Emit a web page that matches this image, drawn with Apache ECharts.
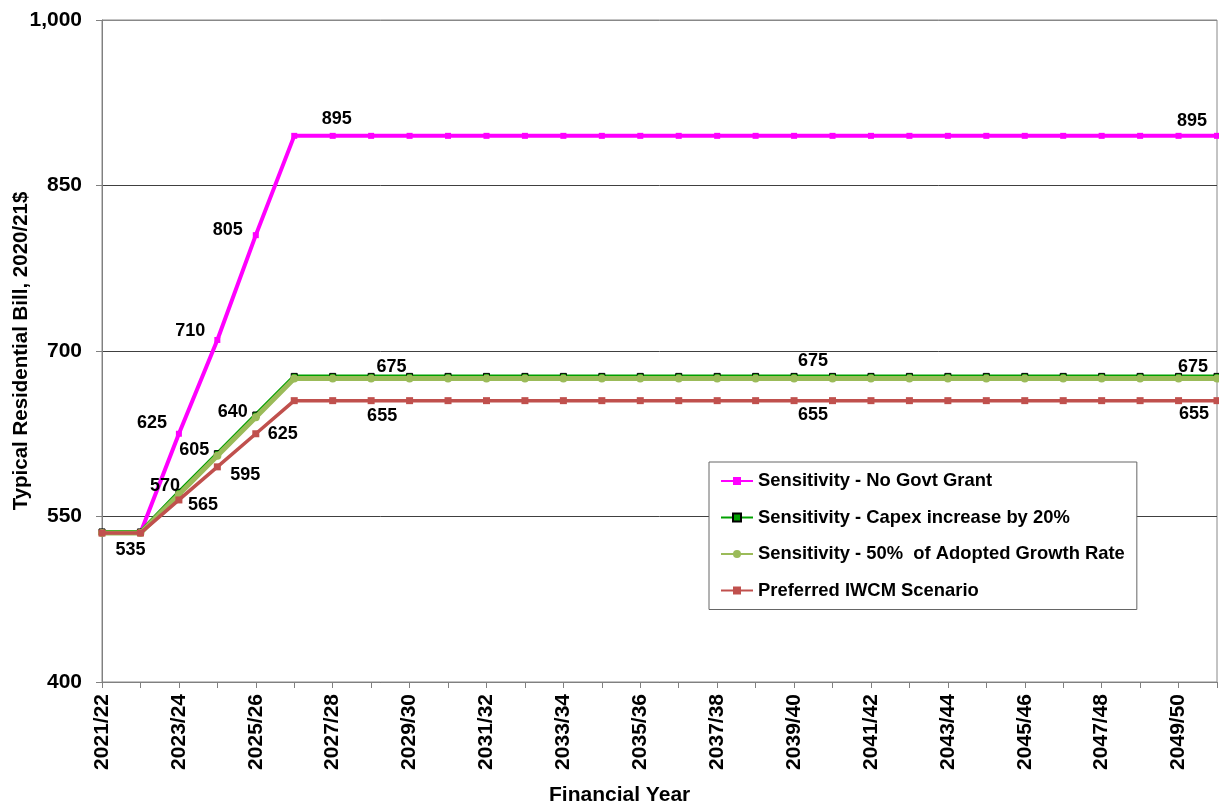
<!DOCTYPE html>
<html>
<head>
<meta charset="utf-8">
<script src="https://cdn.jsdelivr.net/npm/echarts@6/dist/echarts.min.js"></script>
<style>
html,body{margin:0;padding:0;background:#fff;}
#chart{width:1219px;height:810px;}
</style>
</head>
<body>
<div id="chart"></div>
<script>
// ---- data ----
const years = [];
for (let y = 2021; y <= 2050; y++) years.push(y + '/' + String(y + 1).slice(2));

const noGovtGrant = [535,535,625,710,805,895,895,895,895,895,895,895,895,895,895,895,895,895,895,895,895,895,895,895,895,895,895,895,895,895];
const capex20     = [536,536,572,607,642,677,677,677,677,677,677,677,677,677,677,677,677,677,677,677,677,677,677,677,677,677,677,677,677,677];
const growth50    = [535,535,570,605,640,675,675,675,675,675,675,675,675,675,675,675,675,675,675,675,675,675,675,675,675,675,675,675,675,675];
const preferred   = [535,535,565,595,625,655,655,655,655,655,655,655,655,655,655,655,655,655,655,655,655,655,655,655,655,655,655,655,655,655];

const yTicks = [400, 550, 700, 850, 1000];

// label placements: index -> [dx, dy] offset of label centre from point
const noGovtLabels   = {2:[-27,-11], 3:[-27,-9], 4:[-28,-5], 6:[4,-17], 29:[-25,-15]};
const growthLabels   = {2:[-14,-8], 3:[-23,-6], 4:[-23,-5], 8:[-18,-12], 18:[19,-18], 29:[-24,-12]};
const preferredLabels= {1:[-10,17], 2:[24,5], 3:[28,8], 4:[27,0], 7:[11,15], 18:[19,14], 29:[-23,13]};

const FONT = '"Liberation Sans", Arial, sans-serif';

function withLabels(values, labels) {
  return values.map((v, i) => {
    if (labels[i]) {
      return {
        value: v,
        label: {
          show: true, position: 'inside', offset: labels[i],
          formatter: String(v), color: '#000', fontWeight: 'bold',
          fontSize: 18, fontFamily: FONT
        }
      };
    }
    return v;
  });
}

const chart = echarts.init(document.getElementById('chart'), null, {renderer: 'canvas'});

chart.setOption({
  animation: false,
  backgroundColor: '#fff',
  textStyle: {fontFamily: FONT},
  title: {
    text: 'Financial Year', left: 549, top: 785, padding: 0,
    textStyle: {fontSize: 21, fontWeight: 'bold', color: '#000', fontFamily: FONT}
  },
  grid: {
    left: 102, right: 2, top: 20, bottom: 128, containLabel: false,
    outerBoundsMode: 'none',
    show: true, borderColor: '#888', borderWidth: 1, backgroundColor: 'transparent'
  },
  legend: {
    orient: 'vertical', left: 709, top: 462,
    padding: [9, 12, 9, 11],
    itemGap: 16.5, itemWidth: 32, itemHeight: 10,
    backgroundColor: '#fff', borderColor: '#666', borderWidth: 1,
    textStyle: {fontSize: 18.4, fontWeight: 'bold', color: '#000', fontFamily: FONT, lineHeight: 20},
    data: ['Sensitivity - No Govt Grant', 'Sensitivity - Capex increase by 20%', 'Sensitivity - 50%  of Adopted Growth Rate', 'Preferred IWCM Scenario']
  },
  xAxis: {
    type: 'category', data: years, boundaryGap: false,
    axisLine: {lineStyle: {color: '#808080', width: 1}},
    axisTick: {show: true, interval: 0, length: 6, lineStyle: {color: '#808080'}},
    axisLabel: {
      interval: 1, rotate: 90, margin: 12,
      fontSize: 21, fontWeight: 'bold', color: '#000', fontFamily: FONT
    },
    splitLine: {show: false}
  },
  yAxis: {
    type: 'value', min: yTicks[0], max: yTicks[yTicks.length - 1], interval: 150,
    name: 'Typical Residential Bill, 2020/21$',
    nameLocation: 'middle', nameGap: 70, nameMoveOverlap: false,
    nameTextStyle: {fontSize: 20.5, fontWeight: 'bold', color: '#000', fontFamily: FONT},
    axisLine: {show: true, lineStyle: {color: '#808080', width: 1}},
    axisTick: {show: true, length: 6, lineStyle: {color: '#808080'}},
    axisLabel: {
      margin: 20, fontSize: 21, fontWeight: 'bold', color: '#000', fontFamily: FONT,
      formatter: v => v.toLocaleString('en-US')
    },
    splitLine: {show: true, lineStyle: {color: ['#404040', '#404040', '#404040', '#404040', '#888'], width: 1}}
  },
  series: [
    {
      name: 'Sensitivity - No Govt Grant', type: 'line',
      data: withLabels(noGovtGrant, noGovtLabels),
      symbol: 'rect', symbolSize: 6, showAllSymbol: true,
      lineStyle: {color: '#FF00FF', width: 4},
      itemStyle: {color: '#FF00FF'},
      z: 2
    },
    {
      name: 'Sensitivity - Capex increase by 20%', type: 'line',
      data: capex20,
      symbol: 'rect', symbolSize: 6, showAllSymbol: true,
      lineStyle: {color: '#00A000', width: 4},
      itemStyle: {color: '#00A000', borderColor: '#000', borderWidth: 1},
      z: 3
    },
    {
      name: 'Sensitivity - 50%  of Adopted Growth Rate', type: 'line',
      data: withLabels(growth50, growthLabels),
      symbol: 'circle', symbolSize: 8, showAllSymbol: true,
      lineStyle: {color: '#9BBB59', width: 5},
      itemStyle: {color: '#9BBB59'},
      z: 4
    },
    {
      name: 'Preferred IWCM Scenario', type: 'line',
      data: withLabels(preferred, preferredLabels),
      symbol: 'rect', symbolSize: 7, showAllSymbol: true,
      lineStyle: {color: '#C0504D', width: 3.5},
      itemStyle: {color: '#C0504D'},
      z: 5
    }
  ]
});
</script>
</body>
</html>
